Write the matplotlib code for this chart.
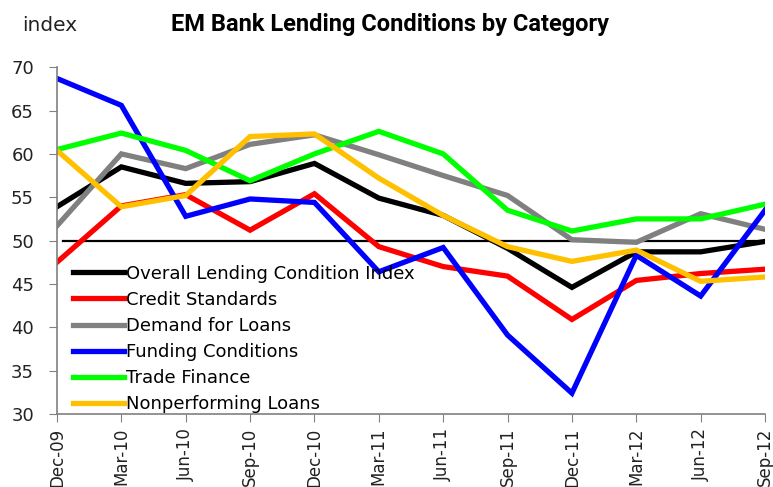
import matplotlib.pyplot as plt

# Quarterly survey dates
quarters = ['Dec-09', 'Mar-10', 'Jun-10', 'Sep-10', 'Dec-10', 'Mar-11',
            'Jun-11', 'Sep-11', 'Dec-11', 'Mar-12', 'Jun-12', 'Sep-12']

# Index values per category
overall = [53.9, 58.5, 56.6, 56.8, 58.9, 54.9, 52.9, 49.1, 44.6, 48.7, 48.7, 49.9]
credit = [47.5, 54.0, 55.3, 51.2, 55.4, 49.3, 47.0, 45.9, 40.9, 45.4, 46.2, 46.7]
demand = [51.7, 60.0, 58.3, 61.1, 62.2, 59.9, 57.5, 55.2, 50.1, 49.8, 53.1, 51.3]
funding = [68.7, 65.6, 52.8, 54.8, 54.4, 46.4, 49.2, 39.1, 32.4, 48.3, 43.6, 53.5]
trade = [60.5, 62.4, 60.4, 56.9, 60.0, 62.6, 60.0, 53.5, 51.1, 52.5, 52.5, 54.2]
npl = [60.4, 53.9, 55.2, 62.0, 62.3, 57.2, 52.9, 49.3, 47.6, 48.9, 45.3, 45.8]

series = [
    ('Overall Lending Condition Index', overall, '#000000'),
    ('Credit Standards', credit, '#ff0000'),
    ('Demand for Loans', demand, '#808080'),
    ('Funding Conditions', funding, '#0000ff'),
    ('Trade Finance', trade, '#00ff00'),
    ('Nonperforming Loans', npl, '#ffc000'),
]

plt.rcParams['font.family'] = 'DejaVu Sans'

fig = plt.figure(figsize=(7.73, 4.87), dpi=100)
ax = fig.add_axes([0.0737, 0.150, 0.916, 0.712])

x = list(range(len(quarters)))
for label, vals, color in series:
    ax.plot(x, vals, color=color, linewidth=3.8, label=label,
            solid_joinstyle='miter')

# neutral threshold
ax.plot([0.1, len(quarters) - 1], [50, 50], color='black', linewidth=1.6,
        zorder=1)

ax.set_xlim(0, len(quarters) - 1)
ax.set_ylim(30, 70)
ax.set_yticks(range(30, 71, 5))
ax.set_xticks(x)
ax.set_xticklabels(quarters, rotation=90, fontsize=12, color='#222222')
ax.tick_params(axis='y', labelsize=13, colors='#222222', length=6,
               direction='out', color='#808080', pad=10.5)
ax.tick_params(axis='x', length=6, direction='out', color='#808080', pad=4)

for side in ('top', 'right'):
    ax.spines[side].set_visible(False)
for side in ('left', 'bottom'):
    ax.spines[side].set_color('#808080')
    ax.spines[side].set_linewidth(1.2)

ax.legend(loc='lower left', bbox_to_anchor=(0.0, -0.045), frameon=False,
          fontsize=13, handlelength=2.8, handletextpad=0.1,
          labelspacing=0.45, borderaxespad=0.5)

fig.text(0.028, 0.948, 'index', fontsize=14.5, color='#222222', va='center')
fig.text(0.505, 0.950, 'EM Bank Lending Conditions by Category',
         fontsize=17, fontweight='bold', ha='center', va='center',
         family='Roboto')

fig.savefig('out.png', dpi=100)
